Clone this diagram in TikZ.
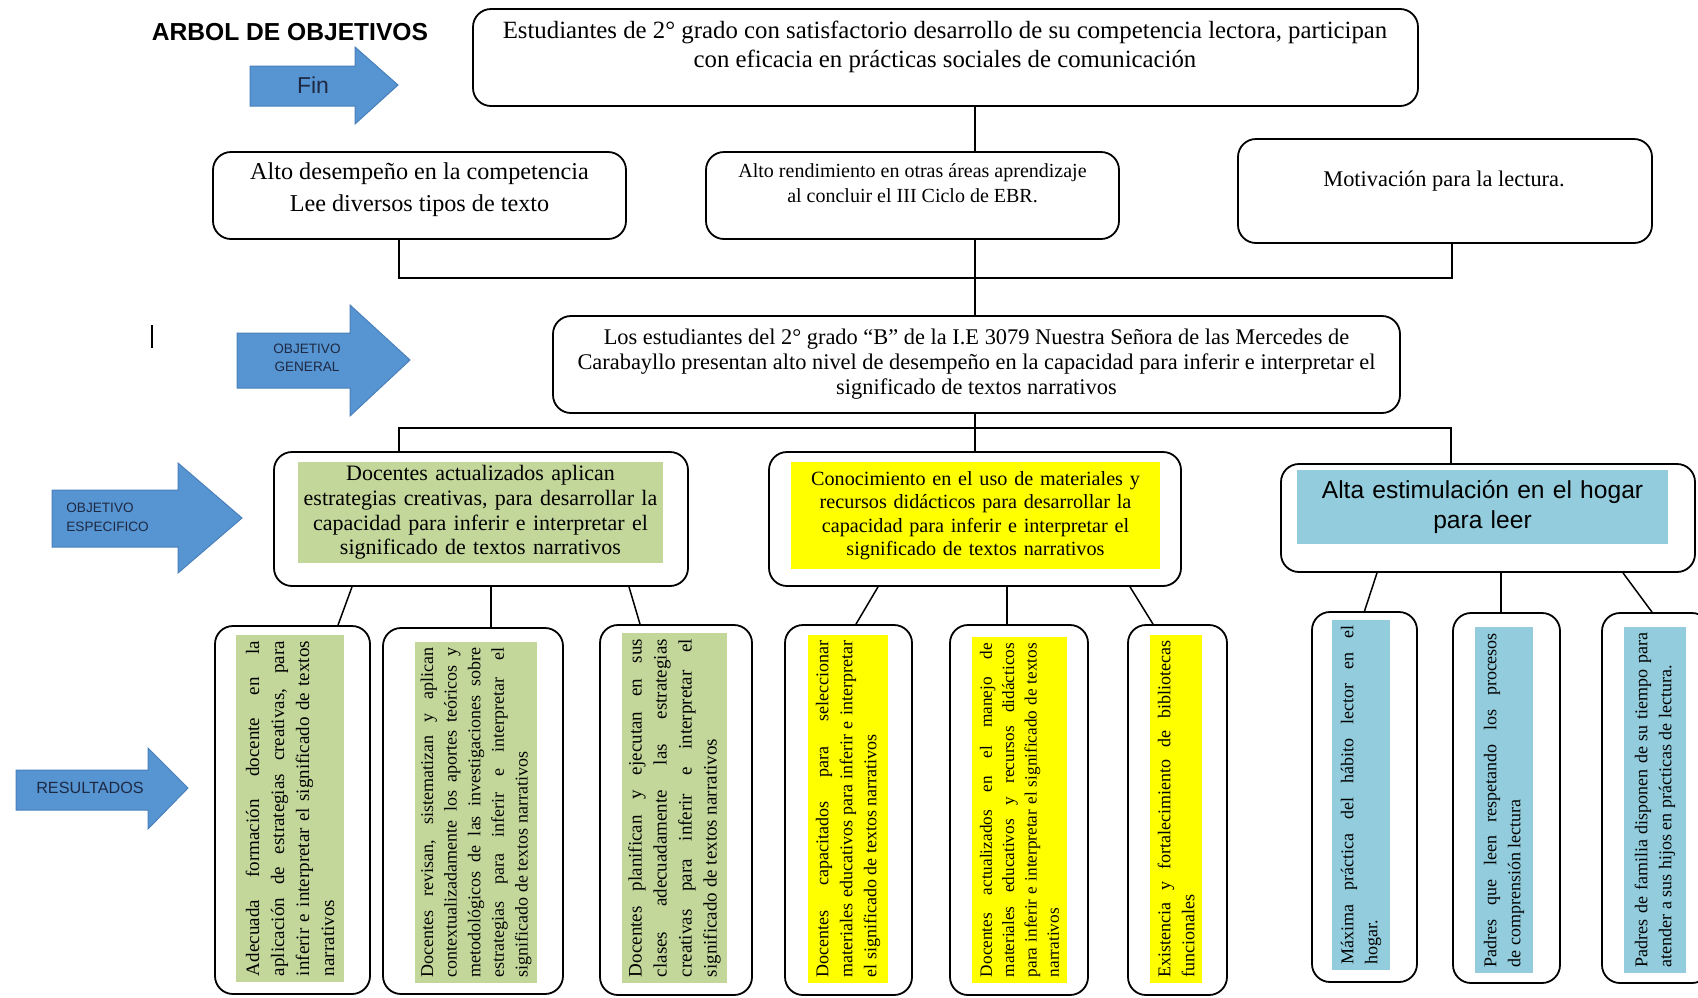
\documentclass[tikz,border=0pt]{standalone}
\usepackage{fontspec}
\setmainfont{Liberation Serif}
\setsansfont{Liberation Sans}

\definecolor{arrowblue}{HTML}{5694D2}
\definecolor{arrowedge}{HTML}{4A80BA}
\definecolor{tagtext}{HTML}{1E2A44}
\definecolor{olivefill}{HTML}{C4D79B}
\definecolor{lemonfill}{HTML}{FFFF00}
\definecolor{aquafill}{HTML}{93CDDD}

\tikzset{
  frame/.style={draw, line width=0.9pt, rounded corners=9pt, inner sep=0pt},
  link/.style={line width=0.75pt},
  arrowshape/.style={fill=arrowblue, draw=arrowedge, line width=0.5pt},
  tag/.style={text=tagtext, align=center, inner sep=0pt},
  boxtext/.style={align=center, inner sep=0pt},
  colbox/.style={rotate=90, inner xsep=3pt, inner ysep=1pt, align=justify,
    execute at begin node={\spaceskip=0.25em plus 3em minus 0.05em\tolerance=10000\hyphenpenalty=10000\relax}},
}

\begin{document}
\begin{tikzpicture}[x=0.5pt, y=-0.5pt]
\useasboundingbox (0,0) rectangle (1698,997);

\node[font=\sffamily\bfseries\fontsize{12.3}{14}\selectfont, inner sep=0pt] (titulo) at (290,32) {ARBOL DE OBJETIVOS};

% flechas de la izquierda
\fill[arrowshape] (250,66) -- (355,66) -- (355,47) -- (398,85) -- (355,124) -- (355,106) -- (250,106) -- cycle;
\fill[arrowshape] (237,333) -- (350,333) -- (350,305) -- (410,360) -- (350,416) -- (350,388) -- (237,388) -- cycle;
\fill[arrowshape] (52,490) -- (178,490) -- (178,463) -- (242,518) -- (178,573) -- (178,547) -- (52,547) -- cycle;
\fill[arrowshape] (16,770) -- (148,770) -- (148,748) -- (188,788) -- (148,829) -- (148,810) -- (16,810) -- cycle;

\node[tag, font=\sffamily\fontsize{11.5}{13}\selectfont] (tagfin) at (313,85) {Fin};
\node[tag, font=\sffamily\fontsize{6.8}{9}\selectfont] (taggen) at (307,358) {OBJETIVO\\GENERAL};
\node[tag, align=left, anchor=west, font=\sffamily\fontsize{6.8}{9.5}\selectfont] (tagesp) at (66,517) {OBJETIVO\\ESPECIFICO};
\node[tag, font=\sffamily\fontsize{8.1}{10}\selectfont] (tagres) at (90,788) {RESULTADOS};

\draw[line width=0.8pt] (152,325) -- (152,348);

% fin
\node[frame, minimum width=472.5pt, minimum height=48.5pt] (fin) at (945.5,57.5) {};
\node[boxtext, font=\fontsize{12.4}{14.5}\selectfont] (fintext) at (945,46.5)
  {Estudiantes de 2° grado con satisfactorio desarrollo de su competencia lectora, participan\\con eficacia en prácticas sociales de comunicación};

% efectos
\node[frame, minimum width=206.5pt, minimum height=43.5pt] (d1) at (419.5,195.5) {};
\node[boxtext, font=\fontsize{12.1}{16}\selectfont] (d1text) at (419.5,190)
  {Alto desempeño en la competencia\\Lee diversos tipos de texto};
\node[frame, minimum width=206.5pt, minimum height=43.5pt] (d2) at (912.5,195.5) {};
\node[boxtext, font=\fontsize{10}{12.5}\selectfont] (d2text) at (912.5,183.5)
  {Alto rendimiento en otras áreas aprendizaje\\al concluir el III Ciclo de EBR.};
\node[frame, minimum width=207pt, minimum height=52pt] (d3) at (1445,191) {};
\node[boxtext, font=\fontsize{11.2}{13}\selectfont] (d3text) at (1444,181) {Motivación para la lectura.};

% objetivo general
\node[frame, minimum width=423.5pt, minimum height=48.5pt] (gen) at (976.5,364.5) {};
\node[boxtext, font=\fontsize{11.2}{12.5}\selectfont] (gentext) at (976.5,364)
  {Los estudiantes del 2° grado “B” de la I.E 3079 Nuestra Señora de las Mercedes de\\Carabayllo presentan alto nivel de desempeño en la capacidad para inferir e interpretar el\\significado de textos narrativos};

% objetivos especificos
\node[frame, minimum width=207pt, minimum height=67pt] (e1) at (481,519) {};
\node[fill=olivefill, minimum width=182.5pt, minimum height=50.5pt, text width=180pt, inner sep=1pt, align=center,
  font=\fontsize{11}{12.3}\selectfont] (e1fill) at (480.5,512.5)
  {Docentes actualizados aplican\\estrategias creativas, para desarrollar la\\capacidad para inferir e interpretar el\\significado de textos narrativos};
\node[frame, minimum width=206pt, minimum height=67pt] (e2) at (975,519) {};
\node[fill=lemonfill, minimum width=184.5pt, minimum height=53.5pt, text width=182pt, inner sep=1pt, align=center,
  font=\fontsize{10.1}{11.75}\selectfont] (e2fill) at (975.5,515.5)
  {Conocimiento en el uso de materiales y\\recursos didácticos para desarrollar la\\capacidad para inferir e interpretar el\\significado de textos narrativos};
\node[frame, minimum width=207pt, minimum height=54pt] (e3) at (1488,518) {};
\node[fill=aquafill, minimum width=185.5pt, minimum height=37pt, text width=183pt, inner sep=1pt, align=center,
  font=\sffamily\fontsize{12.3}{15}\selectfont] (e3fill) at (1482.5,507)
  {Alta estimulación en el hogar\\para leer};

% resultados
\node[frame, minimum width=77.5pt, minimum height=184pt] (r1) at (292.5,810) {};
\node[colbox, fill=olivefill, minimum height=54pt, text width=167.5pt, font=\fontsize{9.5}{12.5}\selectfont] (r1fill) at (290,808.5)
  {Adecuada formación docente en la\linebreak aplicación de estrategias creativas, para\linebreak inferir e interpretar el significado de textos\linebreak narrativos};
\node[frame, minimum width=90pt, minimum height=183pt] (r2) at (473,811) {};
\node[colbox, fill=olivefill, minimum height=61pt, text width=164.5pt, font=\fontsize{9}{11.8}\selectfont] (r2fill) at (476,812.5)
  {Docentes revisan, sistematizan y aplican\linebreak contextualizadamente los aportes teóricos y\linebreak metodológicos de las investigaciones sobre\linebreak estrategias para inferir e interpretar el\linebreak significado de textos narrativos};
\node[frame, minimum width=76pt, minimum height=185pt] (r3) at (676,810) {};
\node[colbox, fill=olivefill, minimum height=52.5pt, text width=169pt, font=\fontsize{9.5}{12.5}\selectfont] (r3fill) at (674.5,808)
  {Docentes planifican y ejecutan en sus\linebreak clases adecuadamente las estrategias\linebreak creativas para inferir e interpretar el\linebreak significado de textos narrativos};
\node[frame, minimum width=63.5pt, minimum height=185pt] (r4) at (848.5,810) {};
\node[colbox, fill=lemonfill, minimum height=40pt, text width=168pt, font=\fontsize{9}{12}\selectfont] (r4fill) at (848,809)
  {Docentes capacitados para seleccionar\linebreak materiales educativos para inferir e interpretar\linebreak el significado de textos narrativos};
\node[frame, minimum width=69pt, minimum height=185pt] (r5) at (1019,810) {};
\node[colbox, fill=lemonfill, minimum height=47.5pt, text width=167pt, font=\fontsize{8.6}{11.2}\selectfont] (r5fill) at (1019.5,810)
  {Docentes actualizados en el manejo de\linebreak materiales educativos y recursos didácticos\linebreak para inferir e interpretar el significado de textos\linebreak narrativos};
\node[frame, minimum width=49.5pt, minimum height=185pt] (r6) at (1177.5,810) {};
\node[colbox, fill=lemonfill, minimum height=26pt, text width=168pt, font=\fontsize{9}{12}\selectfont] (r6fill) at (1176,809)
  {Existencia y fortalecimiento de bibliotecas\linebreak funcionales};
\node[frame, minimum width=52.5pt, minimum height=185pt] (r7) at (1364.5,797) {};
\node[colbox, fill=aquafill, minimum height=29pt, text width=169pt, font=\fontsize{9}{12}\selectfont] (r7fill) at (1361,795)
  {Máxima práctica del hábito lector en el\linebreak hogar.};
\node[frame, minimum width=53.5pt, minimum height=185pt] (r8) at (1506.5,798) {};
\node[colbox, fill=aquafill, minimum height=29pt, text width=167pt, font=\fontsize{9}{12}\selectfont] (r8fill) at (1504,800)
  {Padres que leen respetando los procesos\linebreak de comprensión lectura};
\node[frame, minimum width=54pt, minimum height=185pt] (r9) at (1656,798) {};
\node[colbox, fill=aquafill, minimum height=31pt, text width=167pt, font=\fontsize{9}{12}\selectfont] (r9fill) at (1655,800)
  {Padres de familia disponen de su tiempo para\linebreak atender a sus hijos en prácticas de lectura.};

% conectores
\coordinate (spine) at (975,0);
\coordinate (busA) at (399,278);
\coordinate (busB) at (1452,278);
\coordinate (busC) at (399,428);
\coordinate (busD) at (1451,428);

\draw[link] (fin.south -| spine) -- (d2.north -| spine);
\draw[link] (d1.south -| busA) -- (busA) -- (busB) -- (d3.south -| busB);
\draw[link] (d2.south -| spine) -- (gen.north -| spine);
\draw[link] (gen.south -| spine) -- (e2.north -| spine);
\draw[link] (e1.north -| busC) -- (busC) -- (busD) -- (e3.north -| busD);

\foreach \up/\ua/\dn/\da in {e1/-64.5/r1/22.75, e1/5/r2/9, e1/74/r3/-18,
    e2/-48.5/r4/3.75, e2/16/r5/-6, e2/77.5/r6/-12.25,
    e3/-55.5/r7/0, e3/6.5/r8/-2.75, e3/67.5/r9/-2}
  \draw[link] ([xshift=\ua pt]\up.south) -- ([xshift=\da pt]\dn.north);

\end{tikzpicture}
\end{document}
